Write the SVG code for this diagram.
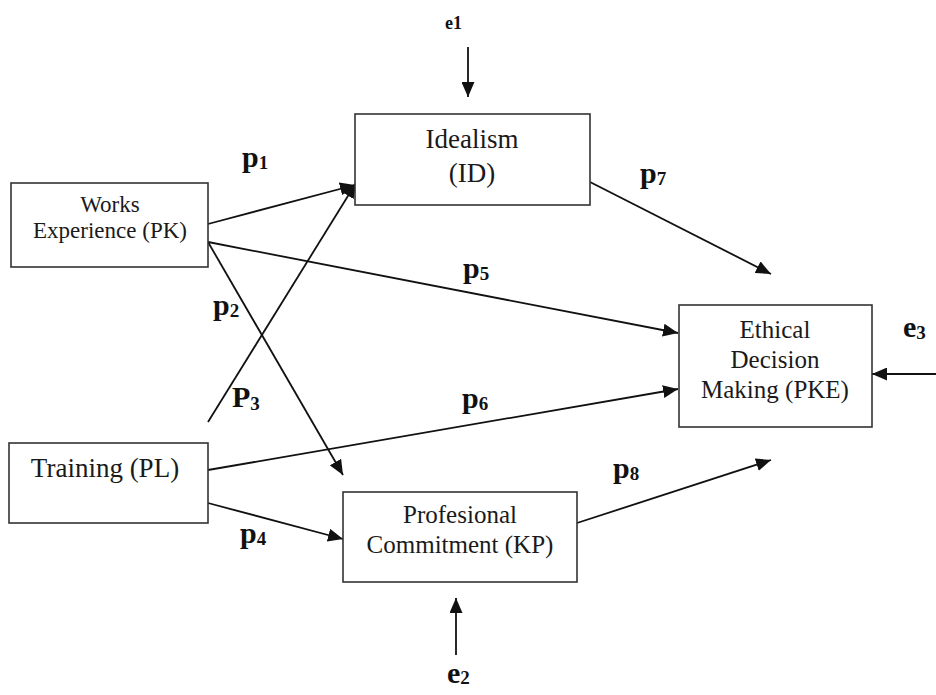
<svg xmlns="http://www.w3.org/2000/svg" width="936" height="695" viewBox="0 0 936 695">
<defs>
<marker id="ah" markerUnits="userSpaceOnUse" markerWidth="15" markerHeight="13" refX="15" refY="6.5" orient="auto">
<path d="M0,0 L15,6.5 L0,13 z" fill="#111"/>
</marker>
<style>
.box{fill:#fff;stroke:#333;stroke-width:1.6}
.nt{font-family:"Liberation Serif","Times New Roman",serif;fill:#1a1a1a;text-anchor:middle}
.lbl{font-family:"Liberation Serif","Times New Roman",serif;fill:#111;font-weight:bold;font-size:30px}
.sub{font-size:19px}
.c{stroke:#111;stroke-width:1.8;fill:none;marker-end:url(#ah)}
</style>
</defs>
<rect width="936" height="695" fill="#fff"/>
<g id="connectors">
<line class="c" x1="208" y1="224" x2="355" y2="185"/>
<line class="c" x1="208" y1="242" x2="678" y2="333"/>
<line class="c" x1="208" y1="242" x2="343" y2="475"/>
<line class="c" x1="208" y1="422" x2="356" y2="183"/>
<line class="c" x1="208" y1="470" x2="678" y2="389"/>
<line class="c" x1="208" y1="503" x2="343" y2="539"/>
<line class="c" x1="590" y1="182" x2="771" y2="274"/>
<line class="c" x1="577" y1="523" x2="771" y2="460"/>
<line class="c" x1="468" y1="47" x2="468" y2="97"/>
<line class="c" x1="456" y1="655" x2="456" y2="598"/>
<line class="c" x1="936" y1="374" x2="872" y2="374"/>
</g>
<g id="labels">
<text class="lbl" x="242" y="167">p<tspan class="sub" dy="2">1</tspan></text>
<text class="lbl" x="213" y="315">p<tspan class="sub" dy="2">2</tspan></text>
<text class="lbl" x="232" y="407">P<tspan class="sub" dy="3">3</tspan></text>
<text class="lbl" x="240" y="543">p<tspan class="sub" dy="2">4</tspan></text>
<text class="lbl" x="463" y="278">p<tspan class="sub" dy="2">5</tspan></text>
<text class="lbl" x="462" y="408">p<tspan class="sub" dy="2">6</tspan></text>
<text class="lbl" x="640" y="183">p<tspan class="sub" dy="2">7</tspan></text>
<text class="lbl" x="613" y="478">p<tspan class="sub" dy="2">8</tspan></text>
<text class="lbl" x="445" y="29" style="font-size:18px">e1</text>
<text class="lbl" x="447" y="683">e<tspan class="sub" dy="1">2</tspan></text>
<text class="lbl" x="903" y="337">e<tspan class="sub" dy="2">3</tspan></text>
</g>
<g id="works">
<rect class="box" x="11" y="183" width="197" height="84"/>
<text class="nt" x="110" y="212" font-size="23">Works</text>
<text class="nt" x="110" y="238" font-size="23">Experience (PK)</text>
</g>
<g id="training">
<rect class="box" x="9" y="443" width="199" height="80"/>
<text class="nt" x="105" y="477" font-size="27">Training (PL)</text>
</g>
<g id="idealism">
<rect class="box" x="355" y="114" width="235" height="91"/>
<text class="nt" x="472" y="148" font-size="27">Idealism</text>
<text class="nt" x="472" y="182" font-size="27">(ID)</text>
</g>
<g id="ethical">
<rect class="box" x="679" y="305" width="193" height="122"/>
<text class="nt" x="775" y="338" font-size="25">Ethical</text>
<text class="nt" x="775" y="368" font-size="25">Decision</text>
<text class="nt" x="775" y="398" font-size="25">Making (PKE)</text>
</g>
<g id="commitment">
<rect class="box" x="343" y="492" width="234" height="90"/>
<text class="nt" x="460" y="523" font-size="25">Profesional</text>
<text class="nt" x="460" y="553" font-size="25">Commitment (KP)</text>
</g>
</svg>
